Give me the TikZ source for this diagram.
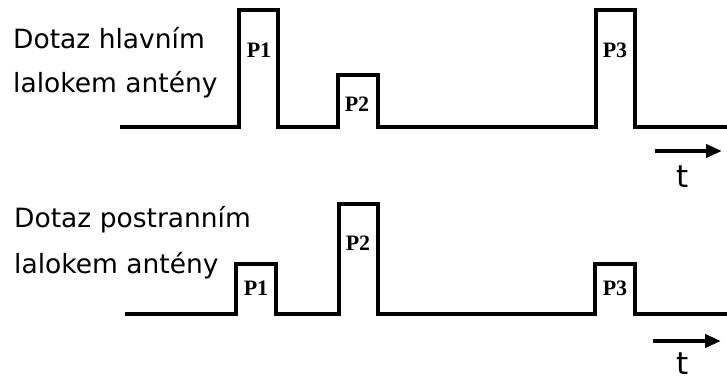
\documentclass[tikz,border=0pt]{standalone}
\usepackage{fontspec}
\setmainfont{DejaVu Sans}
\newfontfamily\pfont{Liberation Serif}
\usetikzlibrary{arrows.meta}
\begin{document}
\begin{tikzpicture}[x=1pt,y=-1pt,
  sig/.style={line width=4pt,line join=miter},
  lbl/.style={font=\fontsize{26.5}{30}\selectfont,anchor=base west,inner sep=0pt},
  plbl/.style={font=\pfont\bfseries\fontsize{22}{24}\selectfont,inner sep=0pt,anchor=base},
  tarrow/.style={line width=4.5pt,-{Triangle[length=16pt,width=13pt]}},
  tlbl/.style={font=\fontsize{31}{34}\selectfont,inner sep=0pt,anchor=base}]
\useasboundingbox (0,0) rectangle (727,380);
% top signal
\coordinate (a0) at (120,127);
\coordinate (a1) at (727,127);
\draw[sig] (a0) -- (239,127) -- (239,10) -- (278,10) -- (278,127) -- (338,127) -- (338,75) -- (378,75) -- (378,127) -- (596,127) -- (596,10) -- (635,10) -- (635,127) -- (a1);
\node[lbl] (t1) at (13,48) {Dotaz hlavním};
\node[lbl] (t2) at (13,92) {lalokem antény};
\node[plbl] (p1a) at (259,57) {P1};
\node[plbl] (p2a) at (357,111) {P2};
\node[plbl] (p3a) at (615,57) {P3};
\coordinate (ar1s) at (655,151);
\coordinate (ar1e) at (722,151);
\draw[tarrow] (ar1s) -- (ar1e);
\node[tlbl] (ta) at (683,187) {t};
% bottom signal
\coordinate (b0) at (125,314);
\coordinate (b1) at (727,314);
\draw[sig] (b0) -- (236,314) -- (236,264) -- (276,264) -- (276,314) -- (339,314) -- (339,204) -- (378,204) -- (378,314) -- (595,314) -- (595,264) -- (635,264) -- (635,314) -- (b1);
\node[lbl] (u1) at (14,227) {Dotaz postranním};
\node[lbl] (u2) at (14,273) {lalokem antény};
\node[plbl] (p1b) at (256,295) {P1};
\node[plbl] (p2b) at (358,250) {P2};
\node[plbl] (p3b) at (615,295) {P3};
\coordinate (ar2s) at (653,341);
\coordinate (ar2e) at (721,341);
\draw[tarrow] (ar2s) -- (ar2e);
\node[tlbl] (tb) at (683,374) {t};
\end{tikzpicture}
\end{document}
